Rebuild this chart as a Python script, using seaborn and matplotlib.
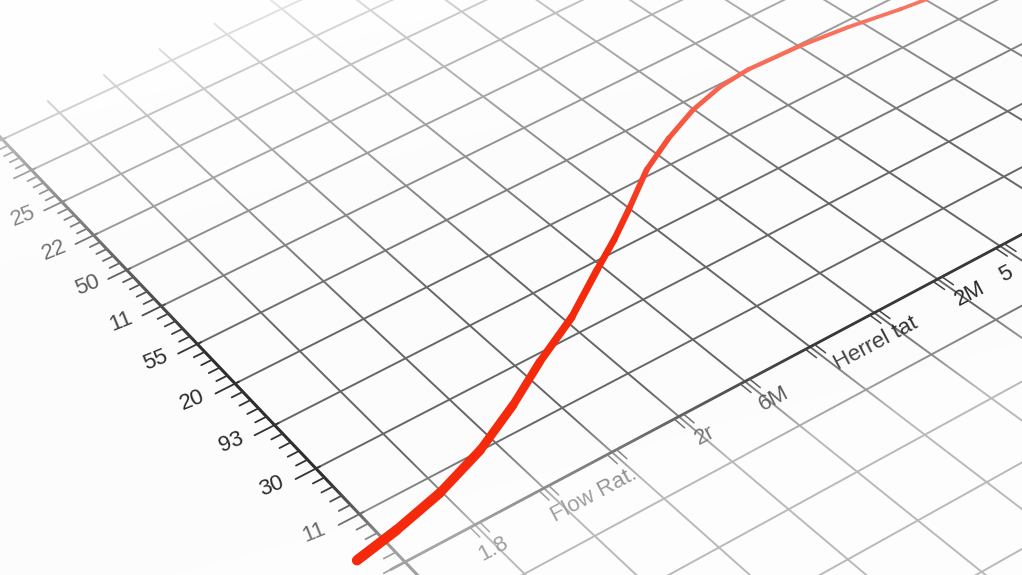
import numpy as np
import matplotlib
matplotlib.use("Agg")
import matplotlib.pyplot as plt
import seaborn as sns
from matplotlib.transforms import Transform

sns.set_theme(style="white")
plt.rcParams["font.family"] = ["Liberation Sans", "DejaVu Sans"]

# values (grid units of the tilted sheet)
curve_x = [-0.44, 0.21, 0.97, 1.78, 2.56, 3.28, 4.1, 4.91, 5.46, 6.0, 6.69, 7.34, 7.98, 8.6, 9.14, 10.0, 10.8, 11.6, 12.1]
curve_y = [0.37, 0.50, 0.70, 1.01, 1.42, 1.86, 2.3, 2.85, 3.21, 3.6, 4.12, 4.48, 4.77, 4.95, 5.01, 4.97, 4.87, 4.72, 4.65]

y_labels = ["11", "30", "93", "20", "55", "11", "50", "22", "25"]
y_label_pos = [1, 2, 3, 4, 5, 6, 7, 8, 9]
x_labels = ["1.8", "Flow Rat.", "2r", "6M", "Herrel tat", "2M", "5"]
x_label_pos = [0.95, 2.4, 4.04, 5.07, 6.63, 8.11, 8.68]


# the sheet is photographed at an angle: map sheet units -> pixels with a homography
sheet_pts = [(0, 0), (9, 0), (0, 9), (9, 9)]
pixel_pts = [(405, 562), (1000, 246), (62, 202), (570, -40)]
A, b = [], []
for (x, y), (u, v) in zip(sheet_pts, pixel_pts):
    A.append([x, y, 1, 0, 0, 0, -u * x, -u * y]); b.append(u)
    A.append([0, 0, 0, x, y, 1, -v * x, -v * y]); b.append(v)
H = np.append(np.linalg.solve(A, b), 1).reshape(3, 3)
Hi = np.linalg.inv(H)


class Sheet(Transform):
    input_dims = 2
    output_dims = 2

    def __init__(self, mat):
        super().__init__()
        self.mat = mat

    def transform_non_affine(self, values):
        values = np.asarray(values, float).reshape(-1, 2)
        p = np.c_[values, np.ones(len(values))] @ self.mat.T
        return p[:, :2] / p[:, 2:3]


W, Hgt = 1022, 575
fig = plt.figure(figsize=(10.22, 5.75), dpi=100, facecolor="#fcfcfc")
ax = fig.add_axes([0, 0, 1, 1])
ax.set_facecolor("#fcfcfc")
sheet = Sheet(H)
tr = sheet + ax.transData

# graph paper
for gx in range(0, 18):
    ax.plot([gx, gx], [-6, 11.4], transform=tr, color="#666666", lw=1.4, zorder=1)
for gy in range(-6, 12):
    ax.plot([0, 18], [gy, gy], transform=tr, color="#666666", lw=1.4, zorder=1)

# axes lines
ax.plot([0, 0], [-0.6, 11.4], transform=tr, color="#2e2e2e", lw=2.2, zorder=2)
ax.plot([-0.2, 18], [0, 0], transform=tr, color="#383838", lw=2.0, zorder=2)

# y ticks along the left axis
for t in np.arange(0, 11.2, 0.2):
    major = abs(t - round(t)) < 1e-6
    ax.plot([-0.3 if major else -0.17, 0.06 if major else 0.0], [t, t], transform=tr,
            color="#333333", lw=1.3, zorder=2)
# double ticks under the x axis
for t in range(1, 18):
    for dx in (-0.07, 0.07):
        ax.plot([t + dx, t + dx], [0, -0.2], transform=tr, color="#444444", lw=1.1, zorder=2)

# red curve, thicker where the sheet is nearer to the camera
for i in range(len(curve_x) - 1):
    mx = (curve_x[i] + curve_x[i + 1]) / 2
    my = (curve_y[i] + curve_y[i + 1]) / 2
    py = sheet.transform([[mx, my]])[0, 1]
    sns.lineplot(x=curve_x[i:i + 2], y=curve_y[i:i + 2], ax=ax, transform=tr, color="#f5290c",
                 lw=0.72 * (3.6 + 7.0 * py / Hgt), solid_capstyle="round", sort=False, zorder=5)

# tick labels
for s, yp in zip(y_labels, y_label_pos):
    ax.text(-0.6, yp + 0.08, s, transform=tr, fontsize=16, color="#2a2a2a",
            rotation=22, ha="center", va="center", zorder=3)
for s, xp in zip(x_labels, x_label_pos):
    ax.text(xp, -0.45, s, transform=tr, fontsize=16, color="#2a2a2a",
            rotation=28, ha="center", va="center", rotation_mode="anchor", zorder=3)

# depth-of-field haze: far part fades everything, near part only the paper
vv, uu = np.mgrid[0:Hgt, 0:W]
q = Hi[2, 0] * uu + Hi[2, 1] * vv + Hi[2, 2]
q0 = Hi[2] @ [405, 562, 1]
r = q0 / q
far = np.ones((Hgt, W, 4))
far[..., 3] = np.clip((r - 1.12) / 0.24, 0, 0.85)
near = np.ones((Hgt, W, 4))
near[..., 3] = np.clip((1.045 - r) / 0.07, 0, 0.55)
ax.imshow(near, extent=(0, W, Hgt, 0), aspect="auto", zorder=4, interpolation="bilinear")
ax.imshow(far, extent=(0, W, Hgt, 0), aspect="auto", zorder=6, interpolation="bilinear")

ax.set_xlim(0, W)
ax.set_ylim(Hgt, 0)
ax.axis("off")
fig.savefig("out.png", dpi=100, facecolor=fig.get_facecolor())
